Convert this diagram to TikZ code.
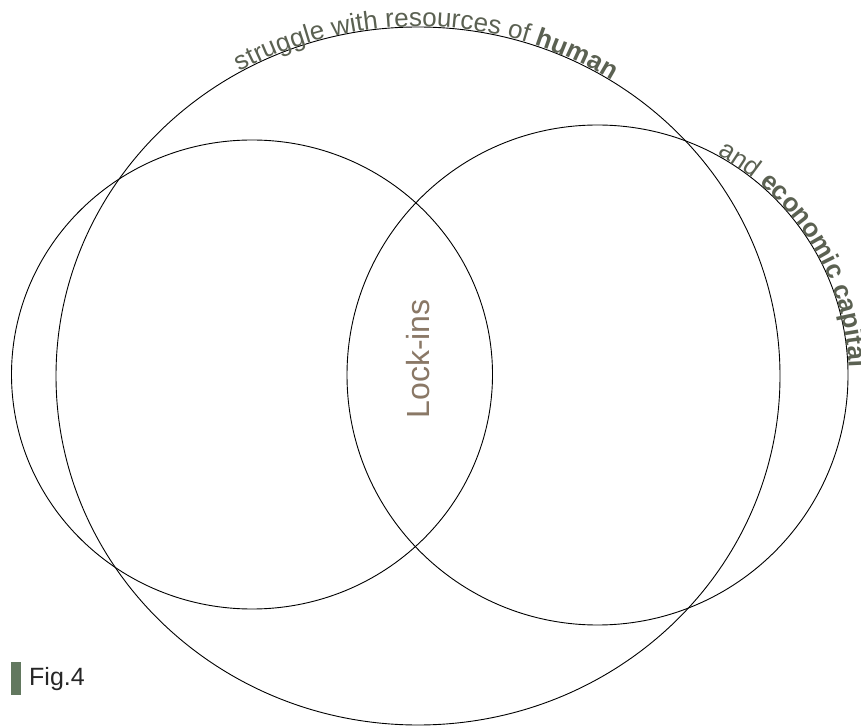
\documentclass[tikz,border=0pt]{standalone}
\usepackage{fontspec}
\setmainfont{Liberation Sans}
\usetikzlibrary{decorations.text}
\definecolor{curvetxt}{HTML}{5B6152}
\definecolor{locktxt}{HTML}{8A7866}
\definecolor{figbar}{HTML}{62785F}
\newcommand{\cfont}{\fontsize{26}{31}\selectfont}
\begin{document}
\begin{tikzpicture}[x=1pt,y=1pt,
  ring/.style={draw=black, line width=0.9pt},
  curvetext/.style={decorate, decoration={text along path, text color=curvetxt, raise=0.5pt, text={#1}}}]
\useasboundingbox (0,0) rectangle (861,726);
\fill[white] (0,0) rectangle (861,726);
% circles
\coordinate (cbig) at (418,350);
\coordinate (cleft) at (252,351.5);
\coordinate (cright) at (597.5,351);
\draw[ring] (cbig) ellipse [x radius=362pt, y radius=349pt];
\draw[ring] (cleft) ellipse [x radius=240.5pt, y radius=234.5pt];
\draw[ring] (cright) ellipse [x radius=250.5pt, y radius=250pt];
% curved texts
\coordinate (t1) at (240.2,653.7);
\path[curvetext={|\cfont|struggle with resources of |\cfont\bfseries|human}]
  (t1) arc[start angle=119.5, end angle=20, x radius=362pt, y radius=349pt];
\coordinate (t2) at (716.8,570.7);
\path[curvetext={|\cfont|and |\cfont\bfseries|economic capital}]
  (t2) arc[start angle=61.6, end angle=-40, x radius=250.5pt, y radius=250pt];
% centre label
\node[rotate=90, text=locktxt, font=\fontsize{32}{38}\selectfont, inner sep=0pt] (lock) at (418,367) {Lock-ins};
% figure label
\fill[figbar] (11,31) rectangle (21,64);
\node[anchor=base west, inner sep=0pt, text=black!85, font=\fontsize{25}{30}\selectfont] (fig) at (29,41) {Fig.4};
\end{tikzpicture}
\end{document}
